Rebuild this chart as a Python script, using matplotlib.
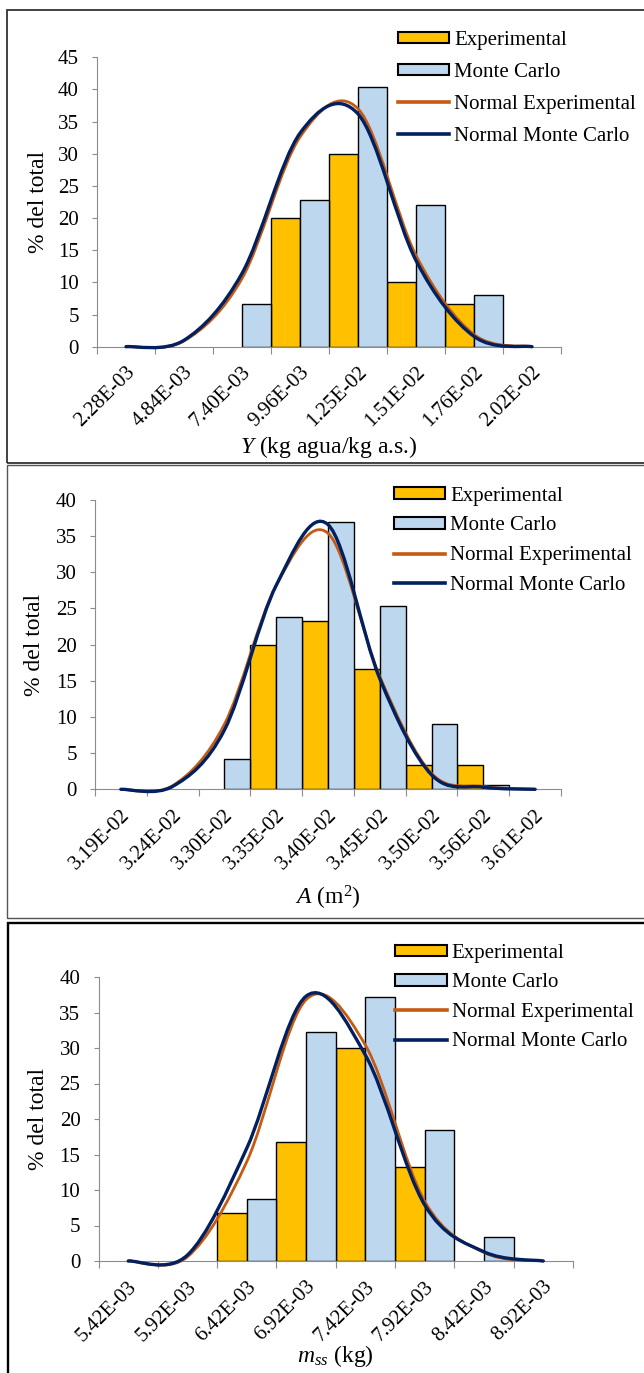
import numpy as np
import matplotlib
matplotlib.use('Agg')
import matplotlib.pyplot as plt
from matplotlib.path import Path
from matplotlib.patches import PathPatch, Patch, Rectangle
from matplotlib.lines import Line2D

plt.rcParams['font.family'] = 'Liberation Serif'
plt.rcParams['mathtext.fontset'] = 'custom'
plt.rcParams['mathtext.rm'] = 'Liberation Serif'
plt.rcParams['mathtext.it'] = 'Liberation Serif:italic'

# Humedad Y (kg agua/kg a.s.)
y_bins = ['2.28E-03', '4.84E-03', '7.40E-03', '9.96E-03', '1.25E-02', '1.51E-02', '1.76E-02', '2.02E-02']
y_exp = [0, 0, 0, 20.0, 30.0, 10.0, 6.7, 0]
y_mc = [0, 0, 6.7, 22.8, 40.4, 22.0, 8.1, 0]
y_norm_exp = [0, 0.9, 10.6, 32.6, 37.0, 14.2, 1.9, 0]
y_norm_mc = [0, 1.0, 11.4, 33.2, 36.2, 13.4, 1.6, 0]

# Area A (m2)
a_bins = ['3.19E-02', '3.24E-02', '3.30E-02', '3.35E-02', '3.40E-02', '3.45E-02', '3.50E-02', '3.56E-02', '3.61E-02']
a_exp = [0, 0, 0, 20.0, 23.3, 16.7, 3.3, 3.3, 0]
a_mc = [0, 0, 4.2, 23.8, 37.0, 25.4, 9.0, 0.6, 0]
a_norm_exp = [0, 0.5, 9.0, 28.2, 35.4, 15.6, 2.2, 0.4, 0]
a_norm_mc = [0, 0.4, 8.2, 28.2, 36.6, 15.3, 2.0, 0.3, 0]

# Masa de solido seco m_ss (kg)
m_bins = ['5.42E-03', '5.92E-03', '6.42E-03', '6.92E-03', '7.42E-03', '7.92E-03', '8.42E-03', '8.92E-03']
m_exp = [0, 0, 6.7, 16.7, 30.0, 13.3, 0, 0]
m_mc = [0, 0, 8.8, 32.2, 37.2, 18.4, 3.4, 0]
m_norm_exp = [0, 0.6, 14.0, 36.8, 30.4, 8.4, 1.2, 0]
m_norm_mc = [0, 0.85, 15.9, 37.3, 29.0, 7.9, 1.3, 0]

EXP_COLOR = '#FFC000'
MC_COLOR = '#BDD7EE'
NEXP_COLOR = '#C55A11'
NMC_COLOR = '#002060'
AXIS_GRAY = '#8C8C8C'

W, H = 644, 1373
fig = plt.figure(figsize=(W / 100, H / 100), dpi=100)


def fx(px):
    return px / W


def fy(py):
    return 1 - py / H


def smooth_path(xs, ys):
    # bezier through every point, like a spreadsheet "smoothed line"
    pts = np.column_stack([xs, ys]).astype(float)
    n = len(pts)
    verts = [pts[0]]
    codes = [Path.MOVETO]
    for i in range(n - 1):
        p0 = pts[max(i - 1, 0)]
        p1 = pts[i]
        p2 = pts[i + 1]
        p3 = pts[min(i + 2, n - 1)]
        verts += [p1 + (p2 - p0) / 6, p2 - (p3 - p1) / 6, p2]
        codes += [Path.CURVE4] * 3
    return Path(verts, codes)


def panel(box, bins, exp, mc, nexp, nmc, ymax, xlabel, ylab_x, xlab_y, leg_xy, leg_space):
    left, right, top, bottom = box
    ax = fig.add_axes([fx(left), fy(bottom), fx(right - left), (bottom - top) / H])
    n = len(bins)
    idx = np.arange(n)
    exp = np.array(exp, dtype=float)
    mc = np.array(mc, dtype=float)

    ke = exp > 0
    km = mc > 0
    ax.bar(idx[ke] + 0.25, exp[ke], width=0.5, color=EXP_COLOR, edgecolor='black', linewidth=1.0, zorder=2)
    ax.bar(idx[km] + 0.75, mc[km], width=0.5, color=MC_COLOR, edgecolor='black', linewidth=1.0, zorder=2)

    ax.add_patch(PathPatch(smooth_path(idx + 0.5, nexp), fill=False, edgecolor=NEXP_COLOR,
                           linewidth=2.0, capstyle='round', zorder=3, clip_on=False))
    ax.add_patch(PathPatch(smooth_path(idx + 0.5, nmc), fill=False, edgecolor=NMC_COLOR,
                           linewidth=2.4, capstyle='round', zorder=4, clip_on=False))

    ax.set_xlim(0, n)
    ax.set_ylim(0, ymax)
    ax.set_yticks(np.arange(0, ymax + 1, 5))
    ax.set_xticks(np.arange(n + 1))
    ax.set_xticklabels([])
    ax.tick_params(axis='y', direction='out', length=3.6, width=0.8, color=AXIS_GRAY, pad=9.5, labelsize=15)
    ax.tick_params(axis='x', direction='out', length=4.8, width=0.8, color=AXIS_GRAY)
    for s in ['top', 'right']:
        ax.spines[s].set_visible(False)
    for s in ['left', 'bottom']:
        ax.spines[s].set_color(AXIS_GRAY)
        ax.spines[s].set_linewidth(0.8)

    for i, lab in enumerate(bins):
        ax.annotate(lab, xy=(i + 0.5, 0), xycoords=('data', 'axes fraction'),
                    xytext=(4.5, -16.5), textcoords='offset points', rotation=45,
                    rotation_mode='anchor', ha='right', va='center', fontsize=15,
                    annotation_clip=False)

    ax.set_ylabel('% del total', fontsize=17, va='center')
    ax.yaxis.set_label_coords(fx(ylab_x), fy((top + bottom) / 2), transform=fig.transFigure)
    ax.set_xlabel(xlabel, fontsize=17, va='center')
    ax.xaxis.set_label_coords(fx((left + right) / 2), fy(xlab_y), transform=fig.transFigure)

    handles = [
        Patch(facecolor=EXP_COLOR, edgecolor='black', linewidth=1.5),
        Patch(facecolor=MC_COLOR, edgecolor='black', linewidth=1.5),
        Line2D([], [], color=NEXP_COLOR, linewidth=2.6),
        Line2D([], [], color=NMC_COLOR, linewidth=2.6),
    ]
    labels = ['Experimental', 'Monte Carlo', 'Normal Experimental', 'Normal Monte Carlo']
    ax.legend(handles, labels, loc='upper left', bbox_to_anchor=(fx(leg_xy[0]), fy(leg_xy[1])),
              bbox_transform=fig.transFigure, frameon=False, fontsize=15, borderpad=0,
              borderaxespad=0, handlelength=2.45, handleheight=0.45, handletextpad=0.25,
              labelspacing=leg_space)
    return ax


panel((97, 561, 57.3, 346.7), y_bins, y_exp, y_mc, y_norm_exp, y_norm_mc, 45,
      r'$Y$ (kg agua/kg a.s.)', 39, 447, (398, 31), 0.62)
panel((95, 561, 500, 789.3), a_bins, a_exp, a_mc, a_norm_exp, a_norm_mc, 40,
      r'$A$ (m$^{2}$)', 35, 898, (394, 486.5), 0.52)
panel((98.6, 572.9, 977, 1261), m_bins, m_exp, m_mc, m_norm_exp, m_norm_mc, 40,
      r'$m_{ss}$ (kg)', 39, 1356, (395.5, 944), 0.5)

# frames around each chart
for (x0, y0, y1, ec, lw) in [(7, 10, 463, '#333333', 1.3),
                             (7, 465, 918, '#555555', 1.0),
                             (8, 923, 1390, '#000000', 1.7)]:
    fig.add_artist(Rectangle((fx(x0), fy(y1)), fx(660 - x0), (y1 - y0) / H,
                             transform=fig.transFigure, fill=False, edgecolor=ec, linewidth=lw))

fig.savefig('out.png', dpi=100)
